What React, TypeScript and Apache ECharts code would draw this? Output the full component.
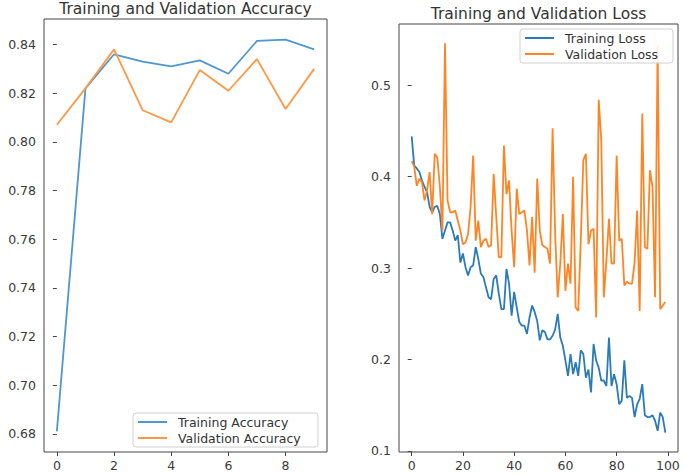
import React, { useEffect, useRef } from "react";
import * as echarts from "echarts";

const accEpochs = [0, 1, 2, 3, 4, 5, 6, 7, 8, 9];
const trainAcc = [0.681, 0.822, 0.836, 0.833, 0.831, 0.8335, 0.828, 0.8415, 0.842, 0.838];
const valAcc = [0.807, 0.822, 0.838, 0.813, 0.808, 0.8295, 0.821, 0.834, 0.8135, 0.830];

const trainLoss = [
  0.444, 0.412, 0.409, 0.405, 0.396, 0.389, 0.383, 0.367, 0.361, 0.367,
  0.368, 0.359, 0.332, 0.341, 0.35, 0.35, 0.341, 0.33, 0.336, 0.306,
  0.316, 0.301, 0.292, 0.301, 0.303, 0.323, 0.31, 0.294, 0.29, 0.279,
  0.268, 0.266, 0.288, 0.292, 0.272, 0.255, 0.255, 0.299, 0.283, 0.248,
  0.274, 0.257, 0.241, 0.237, 0.237, 0.228, 0.246, 0.259, 0.252, 0.242,
  0.221, 0.232, 0.23, 0.222, 0.222, 0.226, 0.233, 0.25, 0.224, 0.215,
  0.199, 0.182, 0.206, 0.184, 0.197, 0.182, 0.21, 0.206, 0.18, 0.189,
  0.164, 0.217, 0.199, 0.191, 0.177, 0.177, 0.171, 0.224, 0.171, 0.184,
  0.173, 0.151, 0.155, 0.199, 0.158, 0.16, 0.158, 0.137, 0.151, 0.157,
  0.173, 0.139, 0.137, 0.137, 0.139, 0.133, 0.122, 0.142, 0.137, 0.12,
];
const valLoss = [
  0.417, 0.411, 0.39, 0.398, 0.394, 0.374, 0.385, 0.405, 0.359, 0.425,
  0.421, 0.389, 0.341, 0.546, 0.374, 0.361, 0.361, 0.363, 0.352, 0.341,
  0.326, 0.328, 0.337, 0.367, 0.423, 0.33, 0.352, 0.323, 0.33, 0.332,
  0.323, 0.325, 0.403, 0.356, 0.312, 0.312, 0.434, 0.381, 0.396, 0.341,
  0.301, 0.387, 0.359, 0.361, 0.363, 0.341, 0.303, 0.356, 0.295, 0.398,
  0.341, 0.325, 0.323, 0.321, 0.305, 0.453, 0.337, 0.268, 0.305, 0.359,
  0.275, 0.305, 0.283, 0.4, 0.257, 0.253, 0.33, 0.418, 0.425, 0.326,
  0.341, 0.343, 0.246, 0.484, 0.44, 0.268, 0.308, 0.354, 0.305, 0.305,
  0.423, 0.33, 0.332, 0.281, 0.285, 0.283, 0.283, 0.306, 0.363, 0.253,
  0.469, 0.323, 0.321, 0.407, 0.389, 0.268, 0.544, 0.255, 0.259, 0.263,
];

const accXTicks = [0, 2, 4, 6, 8];
const accYTicks = [0.68, 0.7, 0.72, 0.74, 0.76, 0.78, 0.8, 0.82, 0.84];
const lossXTicks = [0, 20, 40, 60, 80, 100];
const lossYTicks = [0.1, 0.2, 0.3, 0.4, 0.5];

const FONT = "DejaVu Sans";
const BLUE_L = "#4f97cf";
const ORANGE_L = "#ff9845";
const BLUE_R = "#2a7bb8";
const ORANGE_R = "#ff8524";
const FRAME = "#444";

function axisCommon(ticks: number[], fmt: (v: number) => string, margin: number) {
  return {
    splitLine: { show: false },
    axisLine: { show: false },
    axisTick: { show: true, customValues: ticks, length: 4, lineStyle: { color: FRAME, width: 1 } },
    axisLabel: {
      show: true,
      customValues: ticks,
      formatter: (v: number) => fmt(v),
      fontSize: 12.5,
      fontFamily: FONT,
      color: "#3a3a3a",
      margin,
    },
  };
}

export default function App() {
  const ref = useRef<HTMLDivElement>(null);
  useEffect(() => {
    if (!ref.current) return;
    const chart = echarts.init(ref.current, undefined, { renderer: "svg" });
    const legendCommon = {
      orient: "vertical",
      icon: "rect",
      itemWidth: 29,
      itemHeight: 2,
      itemGap: 2,
      padding: [2, 6, 2, 5],
      borderColor: "#d0d0d0",
      borderWidth: 1,
      borderRadius: 3,
      backgroundColor: "rgba(255,255,255,0.85)",
      textStyle: { fontSize: 12.5, fontFamily: FONT, color: "#333", lineHeight: 14, padding: [0, 0, 0, 6] },
    };
    chart.setOption({
      animation: false,
      backgroundColor: "#fff",
      graphic: [
        {
          type: "text",
          x: 185.5,
          y: 9,
          style: {
            text: "Training and Validation Accuracy",
            fontSize: 15.5,
            fontFamily: FONT,
            fill: "#333",
            textAlign: "center",
            textVerticalAlign: "middle",
          },
        },
        {
          type: "text",
          x: 538.5,
          y: 13.5,
          style: {
            text: "Training and Validation Loss",
            fontSize: 15.5,
            fontFamily: FONT,
            fill: "#333",
            textAlign: "center",
            textVerticalAlign: "middle",
          },
        },
      ],
      grid: [
        { left: 44, top: 19, width: 283, height: 433, show: true, borderColor: FRAME, borderWidth: 1 },
        { left: 399, top: 24, width: 279, height: 428, show: true, borderColor: FRAME, borderWidth: 1 },
      ],
      xAxis: [
        { type: "value", gridIndex: 0, min: -0.45, max: 9.45, ...axisCommon(accXTicks, (v) => String(v), 7) },
        { type: "value", gridIndex: 1, min: -4.95, max: 103.95, ...axisCommon(lossXTicks, (v) => String(v), 7) },
      ],
      yAxis: [
        { type: "value", gridIndex: 0, min: 0.6725, max: 0.8505, ...axisCommon(accYTicks, (v) => v.toFixed(2), 8) },
        { type: "value", gridIndex: 1, min: 0.0988, max: 0.567, ...axisCommon(lossYTicks, (v) => v.toFixed(1), 8) },
      ],
      legend: [
        {
          ...legendCommon,
          left: 133,
          top: 413,
          textStyle: { ...legendCommon.textStyle, width: 134 },
          data: ["Training Accuracy", "Validation Accuracy"],
        },
        {
          ...legendCommon,
          left: 520,
          top: 29,
          textStyle: { ...legendCommon.textStyle, width: 102 },
          data: ["Training Loss", "Validation Loss"],
        },
      ],
      series: [
        {
          name: "Training Accuracy",
          type: "line",
          xAxisIndex: 0,
          yAxisIndex: 0,
          symbol: "none",
          color: BLUE_L,
          lineStyle: { width: 1.8, color: BLUE_L },
          data: accEpochs.map((e, i) => [e, trainAcc[i]]),
        },
        {
          name: "Validation Accuracy",
          type: "line",
          xAxisIndex: 0,
          yAxisIndex: 0,
          symbol: "none",
          color: ORANGE_L,
          lineStyle: { width: 1.8, color: ORANGE_L },
          data: accEpochs.map((e, i) => [e, valAcc[i]]),
        },
        {
          name: "Training Loss",
          type: "line",
          xAxisIndex: 1,
          yAxisIndex: 1,
          symbol: "none",
          color: BLUE_R,
          lineStyle: { width: 1.8, color: BLUE_R },
          data: trainLoss.map((v, i) => [i, v]),
        },
        {
          name: "Validation Loss",
          type: "line",
          xAxisIndex: 1,
          yAxisIndex: 1,
          symbol: "none",
          color: ORANGE_R,
          lineStyle: { width: 1.8, color: ORANGE_R },
          data: valLoss.map((v, i) => [i, v]),
        },
      ],
    });
    return () => chart.dispose();
  }, []);
  return (
    <div
      ref={ref}
      style={{ position: "fixed", left: 0, top: 0, width: 685, height: 474, background: "#fff" }}
    />
  );
}
